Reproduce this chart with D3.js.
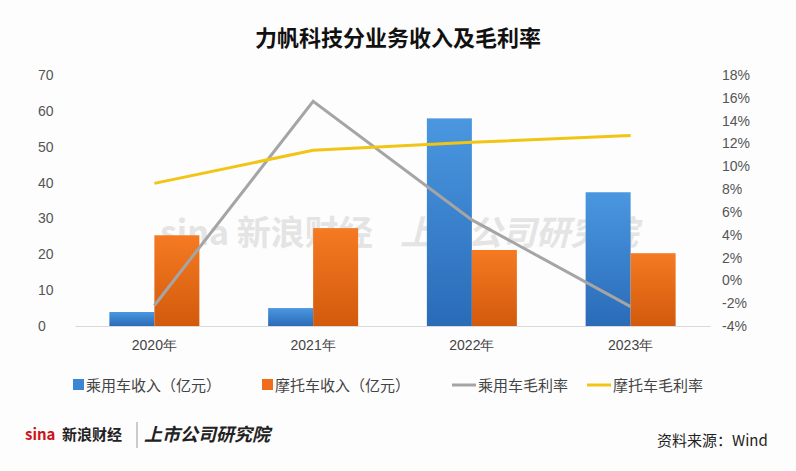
<!DOCTYPE html>
<html><head><meta charset="utf-8">
<script src="https://cdn.jsdelivr.net/npm/d3@7"></script>
<style>body{margin:0;background:#fff;font-family:"Noto Sans CJK SC","Noto Sans",sans-serif}</style>
</head><body><svg id="c" width="796" height="471"></svg>
<script>
const categories=["2020年","2021年","2022年","2023年"];
const carRevenue=[3.9,5.0,57.9,37.3];
const motoRevenue=[25.3,27.3,21.2,20.3];
const carMargin=[-2.2,15.7,5.3,-2.3];
const motoMargin=[8.5,11.4,12.1,12.7];
const leftTicks=[0,10,20,30,40,50,60,70];
const rightTicks=[-4,-2,0,2,4,6,8,10,12,14,16,18];

const svg=d3.select("#c");
svg.append("rect").attr("width",796).attr("height",471).attr("fill","#fdfdfd");
const defs=svg.append("defs");
function grad(id,c1,c2){const g=defs.append("linearGradient").attr("id",id).attr("x1",0).attr("x2",0).attr("y1",0).attr("y2",1);
g.append("stop").attr("offset","0%").attr("stop-color",c1);g.append("stop").attr("offset","100%").attr("stop-color",c2);}
grad("gb","#4a97e0","#2a6bb8");grad("go","#f57a22","#d25a0c");

svg.append("text").attr("x",398).attr("y",46).attr("text-anchor","middle").attr("font-size",22).attr("font-weight","bold").attr("fill","#111").text("力帆科技分业务收入及毛利率");

const x=d3.scaleBand().domain(categories).range([75,710]);
const y=d3.scaleLinear().domain([0,70]).range([326,75]);
const y2=d3.scaleLinear().domain([-4,18]).range([326,75]);

// watermark
svg.append("text").attr("x",160).attr("y",245).attr("font-size",34).attr("font-weight","bold").attr("fill","#ccc").attr("opacity",0.5).text("sina 新浪财经");
svg.append("text").attr("x",400).attr("y",245).attr("font-size",34).attr("font-weight","bold").attr("font-style","italic").attr("fill","#ccc").attr("opacity",0.5).text("上市公司研究院");

const la=svg.append("g").attr("transform","translate(70,0)").call(d3.axisLeft(y).tickValues(leftTicks).tickSize(0).tickPadding(6));
la.select(".domain").remove();
la.selectAll("text").attr("font-size",14).attr("fill","#555").attr("text-anchor","start").attr("x",-32);
const ra=svg.append("g").attr("transform","translate(712,0)").call(d3.axisRight(y2).tickValues(rightTicks).tickSize(0).tickPadding(10).tickFormat(d=>d+"%"));
ra.select(".domain").remove();
ra.selectAll("text").attr("font-size",14).attr("fill","#555");
const ba=svg.append("g").attr("transform","translate(0,326)").call(d3.axisBottom(x).tickSize(0).tickPadding(14));
ba.select(".domain").attr("stroke","#d9d9d9");
ba.selectAll("text").attr("font-size",14).attr("fill","#444");

const bw=45;
svg.selectAll(".b1").data(carRevenue).join("rect").attr("x",(d,i)=>x(categories[i])+x.bandwidth()/2-bw).attr("width",bw)
 .attr("y",d=>y(d)).attr("height",d=>326-y(d)).attr("fill","url(#gb)");
svg.selectAll(".b2").data(motoRevenue).join("rect").attr("x",(d,i)=>x(categories[i])+x.bandwidth()/2).attr("width",bw)
 .attr("y",d=>y(d)).attr("height",d=>326-y(d)).attr("fill","url(#go)");
const cx=(d,i)=>x(categories[i])+x.bandwidth()/2;
const line=d3.line().x(cx).y(d=>y2(d));
svg.append("path").datum(carMargin).attr("d",line).attr("fill","none").attr("stroke","#a5a5a5").attr("stroke-width",3);
svg.append("path").datum(motoMargin).attr("d",line).attr("fill","none").attr("stroke","#f2c414").attr("stroke-width",3);

const leg=[["乘用车收入（亿元）","#3a85d4","r",73],["摩托车收入（亿元）","#f06c1a","r",262],["乘用车毛利率","#a5a5a5","l",452],["摩托车毛利率","#f2c414","l",587]];
leg.forEach(([t,c,k,lx])=>{
 if(k==="r") svg.append("rect").attr("x",lx).attr("y",379).attr("width",11).attr("height",11).attr("fill",c);
 else svg.append("line").attr("x1",lx).attr("x2",lx+24).attr("y1",385).attr("y2",385).attr("stroke",c).attr("stroke-width",3);
 svg.append("text").attr("x",lx+(k==="r"?13:26)).attr("y",391).attr("font-size",15).attr("fill","#444").text(t);
});
svg.append("text").attr("x",25).attr("y",440).attr("font-size",15).attr("font-weight","bold").attr("fill","#d0121b").text("sina");
svg.append("text").attr("x",62).attr("y",440).attr("font-size",15).attr("font-weight","bold").attr("fill","#222").text("新浪财经");
svg.append("line").attr("x1",137).attr("x2",137).attr("y1",422).attr("y2",448).attr("stroke","#999");
svg.append("text").attr("x",144).attr("y",441).attr("font-size",18).attr("font-weight","bold").attr("font-style","italic").attr("fill","#222").text("上市公司研究院");
svg.append("text").attr("x",657).attr("y",446).attr("font-size",15).attr("fill","#222").text("资料来源：Wind");
</script></body></html>
